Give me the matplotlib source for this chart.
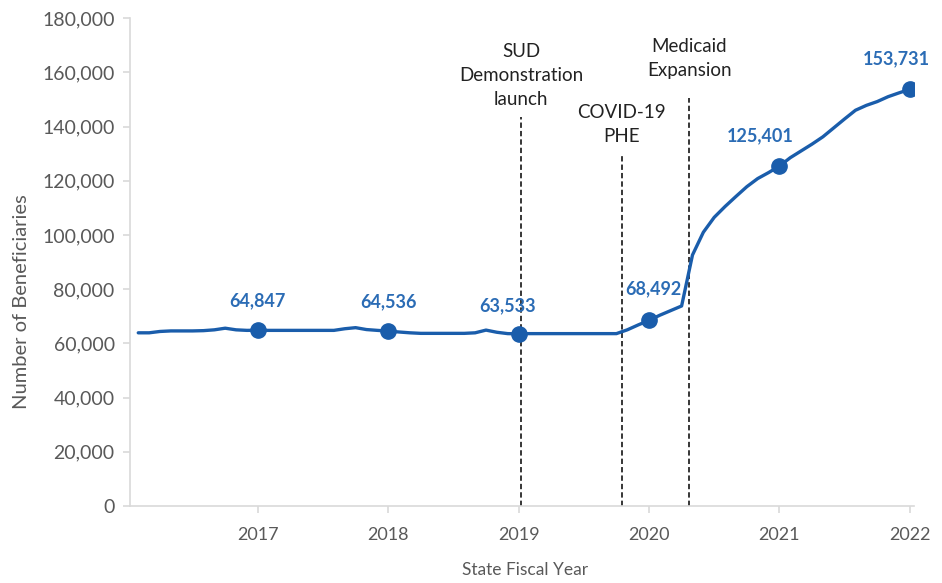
import numpy as np
import matplotlib
matplotlib.use('Agg')
import matplotlib.pyplot as plt
from matplotlib.ticker import FuncFormatter

plt.rcParams['font.family'] = ['Lato', 'DejaVu Sans']

# monthly enrollment, SFY 2016 month 1 through SFY 2022 month 12 (thousands)
months = np.arange(1, 73)
enrollment = [
    63.9, 63.9, 64.4, 64.6, 64.6, 64.6, 64.7, 65.0, 65.6, 65.0, 64.8, 64.847,
    64.8, 64.8, 64.8, 64.8, 64.8, 64.8, 64.8, 65.4, 65.8, 65.1, 64.8, 64.536,
    64.2, 63.9, 63.7, 63.7, 63.7, 63.7, 63.7, 63.9, 64.9, 64.1, 63.6, 63.533,
    63.6, 63.6, 63.6, 63.6, 63.6, 63.6, 63.6, 63.6, 63.6, 65.0, 66.8, 68.492,
    70.4, 72.1, 73.8, 92.6, 101.0, 106.5, 110.5, 114.2, 117.8, 120.8, 123.0, 125.401,
    128.5, 131.0, 133.5, 136.2, 139.5, 142.8, 146.0, 147.8, 149.2, 151.0, 152.4, 153.731,
]
years = [2017, 2018, 2019, 2020, 2021, 2022]
year_end_values = [64847, 64536, 63533, 68492, 125401, 153731]

# policy events: (position in years, top of the dashed line, caption, caption bottom)
events = [
    (2019.02, 143500, 'SUD\nDemonstration\nlaunch', 147000),
    (2019.79, 130000, 'COVID-19\nPHE', 133000),
    (2020.31, 150500, 'Medicaid\nExpansion', 157500),
]
# label offsets in points (dx, dy) for each year-end marker
label_offsets = [(0, 15), (0, 15), (-8, 14), (3, 17), (-14, 16), (-10, 16)]

x = 2016 + months / 12.0
y = np.array(enrollment) * 1000

blue = '#1A5DAB'
label_blue = '#2B6CB5'
grey = '#595959'

fig = plt.figure(figsize=(9.42, 5.83), dpi=100)
ax = fig.add_axes([0.138, 0.132, 0.832, 0.837])

ax.plot(x, y, color=blue, lw=2.4, solid_capstyle='round', zorder=3)
ax.plot(years, year_end_values, 'o', color=blue, ms=11, zorder=4)
for yr, v, (dx, dy) in zip(years, year_end_values, label_offsets):
    ax.annotate('{:,}'.format(v), (yr, v), xytext=(dx, dy), textcoords='offset points',
                ha='center', va='bottom', fontsize=13, fontweight='bold', color=label_blue)

for ex, top, txt, ty in events:
    ax.plot([ex, ex], [0, top], color='black', lw=1.1, ls=(0, (3.5, 2)), zorder=2)
    ax.text(ex, ty, txt, ha='center', va='bottom', fontsize=13.5,
            color='#222222', linespacing=1.5)

ax.set_xlim(2016.02, 2022.03)
ax.set_ylim(0, 180000)
ax.set_xticks(years)
ax.set_yticks(np.arange(0, 180001, 20000))
ax.yaxis.set_major_formatter(FuncFormatter(lambda v, p: '{:,}'.format(int(v))))

for side in ['top', 'right']:
    ax.spines[side].set_visible(False)
for side in ['left', 'bottom']:
    ax.spines[side].set_color('#D9D9D9')
    ax.spines[side].set_linewidth(1.2)
ax.tick_params(axis='both', colors='#D9D9D9', labelcolor=grey,
               length=5, width=1.2, direction='out')
ax.tick_params(axis='x', pad=10, labelsize=13)
ax.tick_params(axis='y', pad=6, labelsize=14)

fig.text(22 / 942, 1 - 302 / 583, 'Number of Beneficiaries', rotation=90,
         ha='center', va='center', fontsize=14.5, color=grey)
fig.text(525 / 942, 1 - 570 / 583, 'State Fiscal Year', ha='center', va='center',
         fontsize=12.5, color=grey)

fig.savefig('out.png', dpi=100)
